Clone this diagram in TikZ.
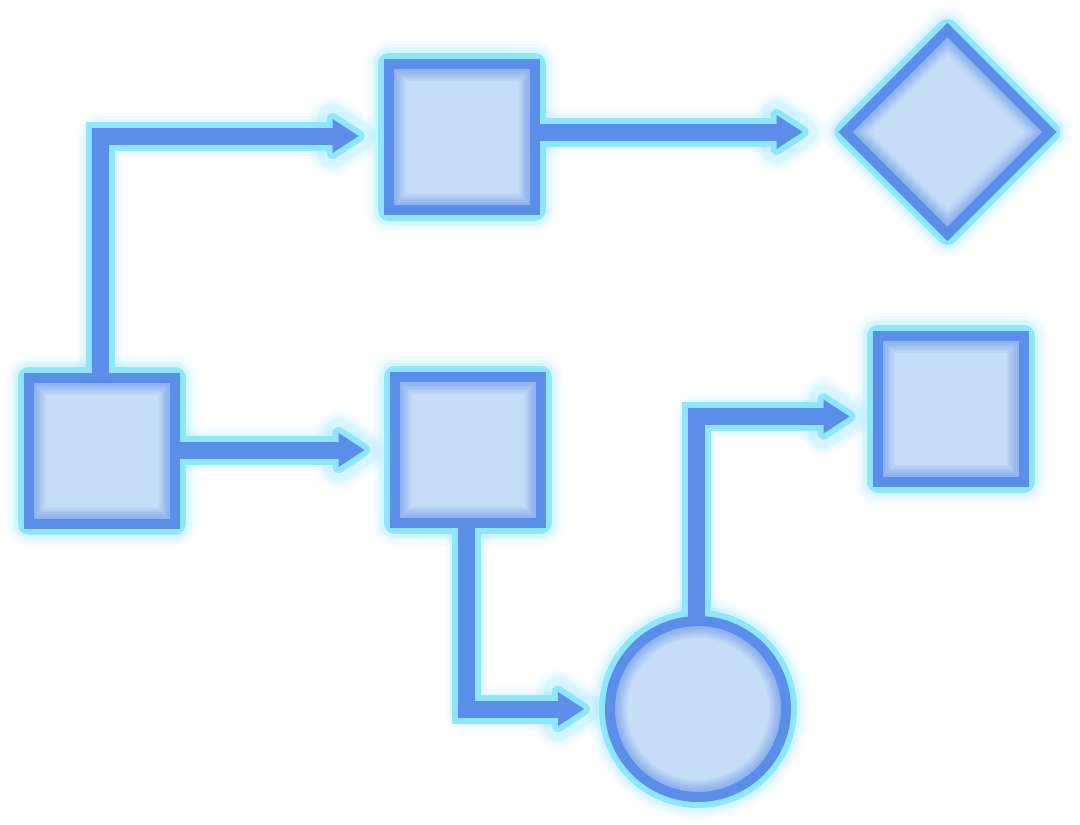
\documentclass[tikz,border=0pt]{standalone}
\usetikzlibrary{shapes.geometric,calc}
\definecolor{bluec}{HTML}{5A8EE8}
\definecolor{cyanc}{HTML}{8EE6FF}
\definecolor{fillc}{HTML}{C6DCF7}
\pgfdeclarelayer{bgl}
\pgfdeclarelayer{glow}
\pgfdeclarelayer{cyanl}
\pgfdeclarelayer{top}
\pgfsetlayers{bgl,glow,cyanl,main,top}
\tikzset{
  anchornode/.style={draw=none,inner sep=0pt,outer sep=0pt},
  boxnode/.style={anchornode,rectangle,minimum width=146pt,minimum height=146pt},
  circnode/.style={anchornode,circle,minimum size=176pt},
  diamnode/.style={anchornode,diamond,minimum width=204pt,minimum height=204pt},
  glowring/.style={draw=cyanc,line join=round,line cap=round},
  softglow/.style={
    preaction={glowring,draw opacity=.05,line width=46pt},
    preaction={glowring,draw opacity=.08,line width=40pt},
    preaction={glowring,draw opacity=.11,line width=34pt},
    preaction={glowring,draw opacity=.16,line width=29pt}},
  cyanedge/.style={draw=cyanc,line width=22pt,line join=round},
  blueedge/.style={draw=bluec,line width=10pt,line join=miter},
  innershade/.style={draw=bluec,draw opacity=.09},
  cyanshaft/.style={draw=cyanc,line width=29pt,line join=miter},
  blueshaft/.style={draw=bluec,line width=17pt,line join=miter},
  cyanhead/.style={fill=cyanc,draw=cyanc,line width=12pt,line join=round},
  bluehead/.style={fill=bluec},
}
\newcommand\glowshape[1]{%
  \begin{pgfonlayer}{glow}\path[softglow] #1;\end{pgfonlayer}%
  \begin{pgfonlayer}{cyanl}\path[cyanedge] #1;\end{pgfonlayer}%
  \path[fill=fillc] #1;
  \begin{scope}
    \clip #1;
    \foreach \w in {34,30,26,23,20,17,14}{\path[innershade,line width=\w pt] #1;}
  \end{scope}
  \path[blueedge] #1;
}
\newcommand\glowarrow[2]{%
  \begin{pgfonlayer}{glow}
    \path[softglow] #1;
    \path[softglow] (#2) -- ++(-26,17) -- ++(0,-34) -- cycle;
  \end{pgfonlayer}%
  \begin{pgfonlayer}{cyanl}
    \path[cyanshaft] #1;
    \path[cyanhead] (#2) -- ++(-26,17) -- ++(0,-34) -- cycle;
  \end{pgfonlayer}%
  \begin{pgfonlayer}{top}
    \path[blueshaft] #1;
    \path[bluehead] (#2) -- ++(-26,17) -- ++(0,-34) -- cycle;
  \end{pgfonlayer}%
}
\begin{document}
\begin{tikzpicture}[x=1pt,y=-1pt]
  \begin{pgfonlayer}{bgl}
    \fill[white] (0,0) rectangle (1080,825);
  \end{pgfonlayer}
  \useasboundingbox (0,0) rectangle (1080,825);
  % nodes
  \node[boxnode]  (A) at (101.5,450.5) {};
  \node[boxnode]  (B) at (461.5,137) {};
  \node[boxnode]  (C) at (467.5,450) {};
  \node[boxnode]  (F) at (950.5,408.5) {};
  \node[diamnode] (D) at (947.5,132) {};
  \node[circnode] (E) at (698,709) {};
  % arrow tips
  \coordinate (t1) at ([xshift=-30pt,yshift=1pt]B.west);
  \coordinate (t2) at ([xshift=-30pt]C.west);
  \coordinate (t3) at ([xshift=-43pt]D.west);
  \coordinate (t4) at ([xshift=-26pt]E.west);
  \coordinate (t5) at ([xshift=-28pt,yshift=-8pt]F.west);
  % shapes
  \glowshape{(A.north west) rectangle (A.south east)}
  \glowshape{(B.north west) rectangle (B.south east)}
  \glowshape{(C.north west) rectangle (C.south east)}
  \glowshape{(F.north west) rectangle (F.south east)}
  \glowshape{(D.north) -- (D.east) -- (D.south) -- (D.west) -- cycle}
  \glowshape{(E) circle[radius=88pt]}
  % connectors
  \glowarrow{([xshift=-1.5pt]A.north) |- ([xshift=-22pt]t1)}{t1}
  \glowarrow{(A.east |- t2) -- ([xshift=-22pt]t2)}{t2}
  \glowarrow{(B.east |- t3) -- ([xshift=-22pt]t3)}{t3}
  \glowarrow{([xshift=-1pt]C.south) |- ([xshift=-22pt]t4)}{t4}
  \glowarrow{([xshift=-1.5pt]E.north) |- ([xshift=-22pt]t5)}{t5}
\end{tikzpicture}
\end{document}
